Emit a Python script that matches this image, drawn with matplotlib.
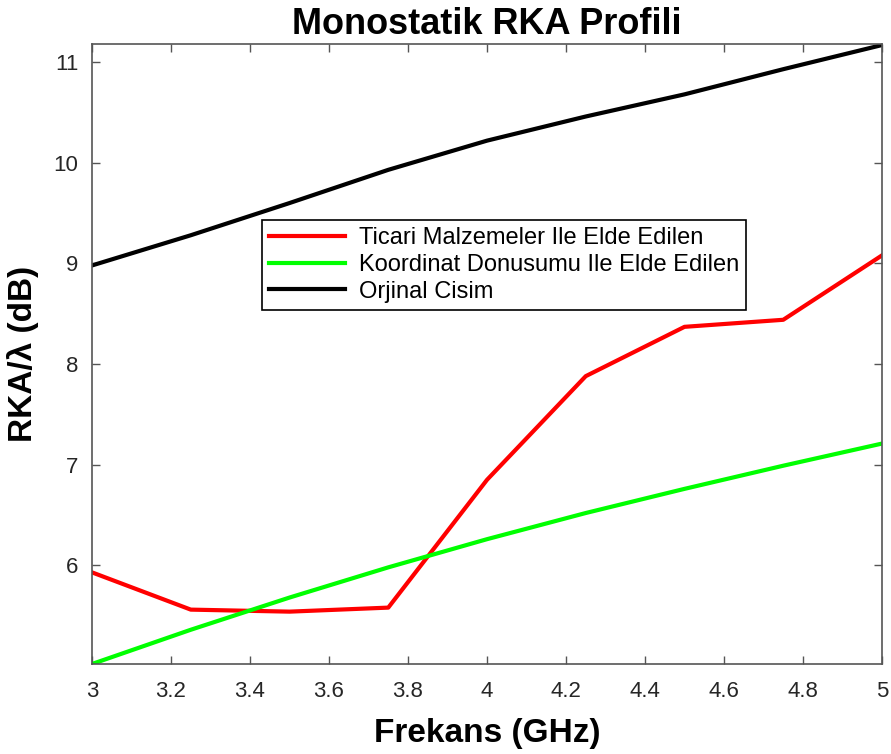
import matplotlib
matplotlib.use("Agg")
import matplotlib.pyplot as plt

plt.rcParams['font.family'] = ['Liberation Sans', 'DejaVu Sans']

# Frequency sweep (GHz) and monostatic RCS/lambda (dB)
freq = [3.0, 3.25, 3.5, 3.75, 4.0, 4.25, 4.5, 4.75, 5.0]
ticari = [5.93, 5.56, 5.54, 5.58, 6.85, 7.88, 8.37, 8.44, 9.08]
koordinat = [5.02, 5.36, 5.68, 5.98, 6.26, 6.52, 6.76, 6.99, 7.21]
orjinal = [8.98, 9.28, 9.60, 9.93, 10.22, 10.46, 10.68, 10.93, 11.17]

xticks = [3, 3.2, 3.4, 3.6, 3.8, 4, 4.2, 4.4, 4.6, 4.8, 5]
xticklabels = ['3', '3.2', '3.4', '3.6', '3.8', '4', '4.2', '4.4', '4.6', '4.8', '5']
yticks = [6, 7, 8, 9, 10, 11]

fig = plt.figure(figsize=(8.91, 7.54), dpi=100)
ax = fig.add_axes([0.1033, 0.1194, 0.8866, 0.8222])

ax.plot(freq, ticari, color='#ff0000', lw=3, label='Ticari Malzemeler Ile Elde Edilen')
ax.plot(freq, koordinat, color='#00ff00', lw=3, label='Koordinat Donusumu Ile Elde Edilen')
ax.plot(freq, orjinal, color='black', lw=3, label='Orjinal Cisim')

ax.set_xlim(3, 5)
ax.set_ylim(5.02, 11.18)
ax.set_xticks(xticks)
ax.set_xticklabels(xticklabels)
ax.set_yticks(yticks)

gray = '#262626'
for s in ax.spines.values():
    s.set_color('#555555')
    s.set_linewidth(1.2)
ax.tick_params(direction='in', length=6, width=1, colors='#555555',
               labelcolor=gray, labelsize=16, top=True, right=True)
ax.tick_params(axis='x', pad=12)
ax.tick_params(axis='y', pad=10)

ax.set_xlabel('Frekans (GHz)', fontsize=24, fontweight='bold', labelpad=12)
ax.set_ylabel('RKA/λ (dB)', fontsize=24, fontweight='bold', labelpad=10)
ax.set_title('Monostatik RKA Profili', fontsize=26, fontweight='bold', pad=7)

leg = ax.legend(loc='upper left', bbox_to_anchor=(0.215, 0.716), fontsize=17,
                frameon=True, fancybox=False, edgecolor='black', framealpha=1,
                handlelength=3.2, borderpad=0.3, labelspacing=0.2,
                handletextpad=0.6, borderaxespad=0)
leg.get_frame().set_linewidth(1.2)

fig.savefig('out.png', dpi=100)
